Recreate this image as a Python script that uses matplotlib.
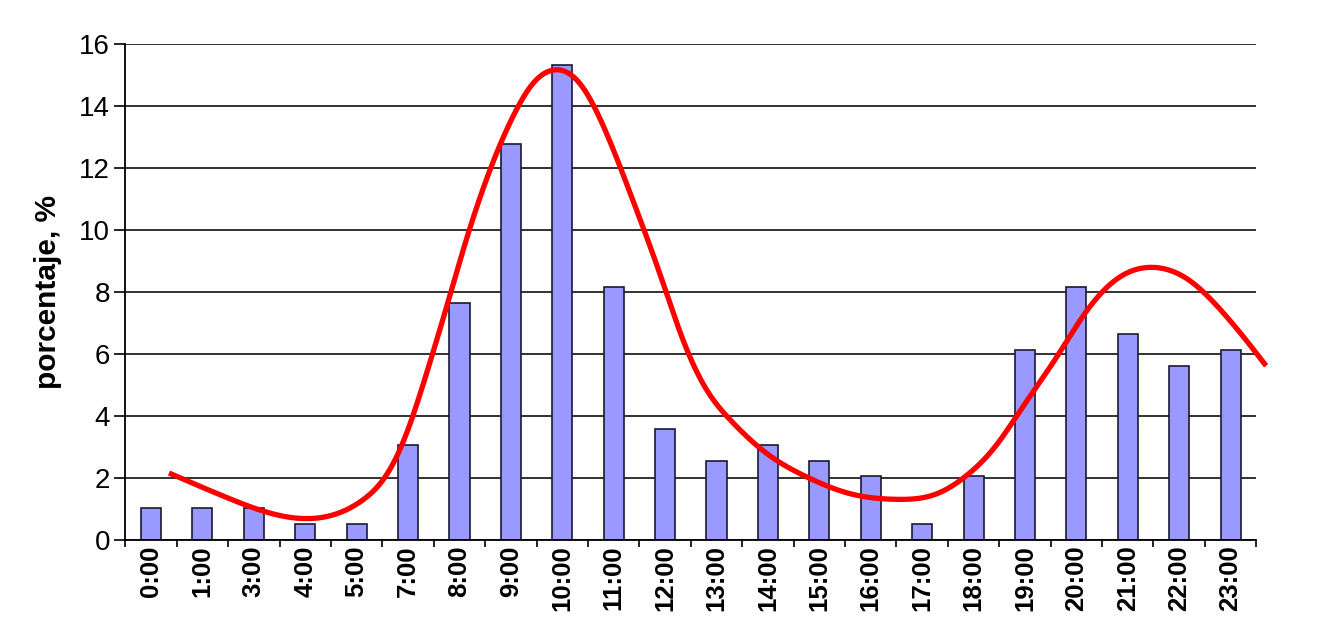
import numpy as np
import matplotlib.pyplot as plt

hours = ['0:00', '1:00', '3:00', '4:00', '5:00', '7:00', '8:00', '9:00', '10:00',
         '11:00', '12:00', '13:00', '14:00', '15:00', '16:00', '17:00', '18:00',
         '19:00', '20:00', '21:00', '22:00', '23:00']
percent = [1.02, 1.02, 1.02, 0.51, 0.51, 3.06, 7.65, 12.76, 15.31, 8.16, 3.57,
           2.55, 3.06, 2.55, 2.04, 0.51, 2.04, 6.12, 8.16, 6.63, 5.61, 6.12]

# trend curve knots (x in category index units)
trend_x = [0.35, 1.5, 3.1, 4.12, 4.64, 4.97, 5.36, 5.75, 6.13, 6.52, 7.04, 7.43,
           7.82, 8.34, 8.86, 9.37, 9.89, 10.35, 10.81, 11.27, 11.97, 12.81, 13.58,
           14.5, 15.27, 15.88, 16.42, 16.96, 17.58, 18.19, 18.81, 19.5, 20.19,
           20.81, 21.35, 21.69]
trend_y = [2.15, 1.34, 0.68, 1.28, 2.25, 3.43, 5.37, 7.52, 9.67, 11.61, 13.66,
           14.73, 15.16, 14.73, 13.12, 10.97, 8.62, 6.44, 4.83, 3.86, 2.79, 1.98,
           1.49, 1.3, 1.47, 2.09, 3.0, 4.29, 5.8, 7.36, 8.44, 8.79, 8.38, 7.41,
           6.34, 5.61]

BAR_COLOR = '#9999ff'


def natural_spline(xs, ys, n=1500):
    x = np.asarray(xs, float)
    y = np.asarray(ys, float)
    m = len(x)
    h = np.diff(x)
    A = np.zeros((m, m))
    r = np.zeros(m)
    A[0, 0] = A[-1, -1] = 1.0
    for i in range(1, m - 1):
        A[i, i - 1] = h[i - 1]
        A[i, i] = 2 * (h[i - 1] + h[i])
        A[i, i + 1] = h[i]
        r[i] = 3 * ((y[i + 1] - y[i]) / h[i] - (y[i] - y[i - 1]) / h[i - 1])
    c = np.linalg.solve(A, r)
    b = (y[1:] - y[:-1]) / h - h * (2 * c[:-1] + c[1:]) / 3
    d = (c[1:] - c[:-1]) / (3 * h)
    xx = np.linspace(x[0], x[-1], n)
    k = np.clip(np.searchsorted(x, xx) - 1, 0, m - 2)
    t = xx - x[k]
    yy = y[k] + b[k] * t + c[k] * t ** 2 + d[k] * t ** 3
    return xx, yy


plt.rcParams['font.family'] = ['Liberation Sans', 'DejaVu Sans']

fig = plt.figure(figsize=(13.22, 6.3), dpi=100)
ax = fig.add_axes([0.0948, 0.1435, 0.8555, 0.7865])

pos = np.arange(len(hours))
ax.bar(pos, percent, width=0.39, color=BAR_COLOR, edgecolor='#1a1a33',
       linewidth=1.2, zorder=2)

cx, cy = natural_spline(trend_x, trend_y)
ax.plot(cx, cy, color='#ff0000', linewidth=3.8, zorder=3, clip_on=False,
        solid_capstyle='butt')

ax.set_xlim(-0.5, len(hours) - 0.5)
ax.set_ylim(0, 16)
ax.set_yticks(range(0, 17, 2))
ax.tick_params(axis='y', labelsize=20, length=8, width=1.2, pad=3)
ax.yaxis.grid(True, color='#222222', linewidth=1.3, zorder=0)
ax.set_axisbelow(True)

ax.set_xticks(pos)
ax.set_xticklabels(hours, rotation=90, fontsize=18.5, fontweight='bold')
ax.set_xticks(np.arange(-0.5, len(hours)), minor=True)
ax.tick_params(axis='x', which='major', length=0, pad=4)
ax.tick_params(axis='x', which='minor', length=5, width=1.2, direction='out')

ax.spines[['top', 'right']].set_visible(False)
ax.spines['left'].set_linewidth(1.3)
ax.spines['bottom'].set_linewidth(1.3)

ax.set_ylabel('porcentaje, %', fontsize=21.5, fontweight='bold', labelpad=12)

fig.savefig('out.png', dpi=100)
